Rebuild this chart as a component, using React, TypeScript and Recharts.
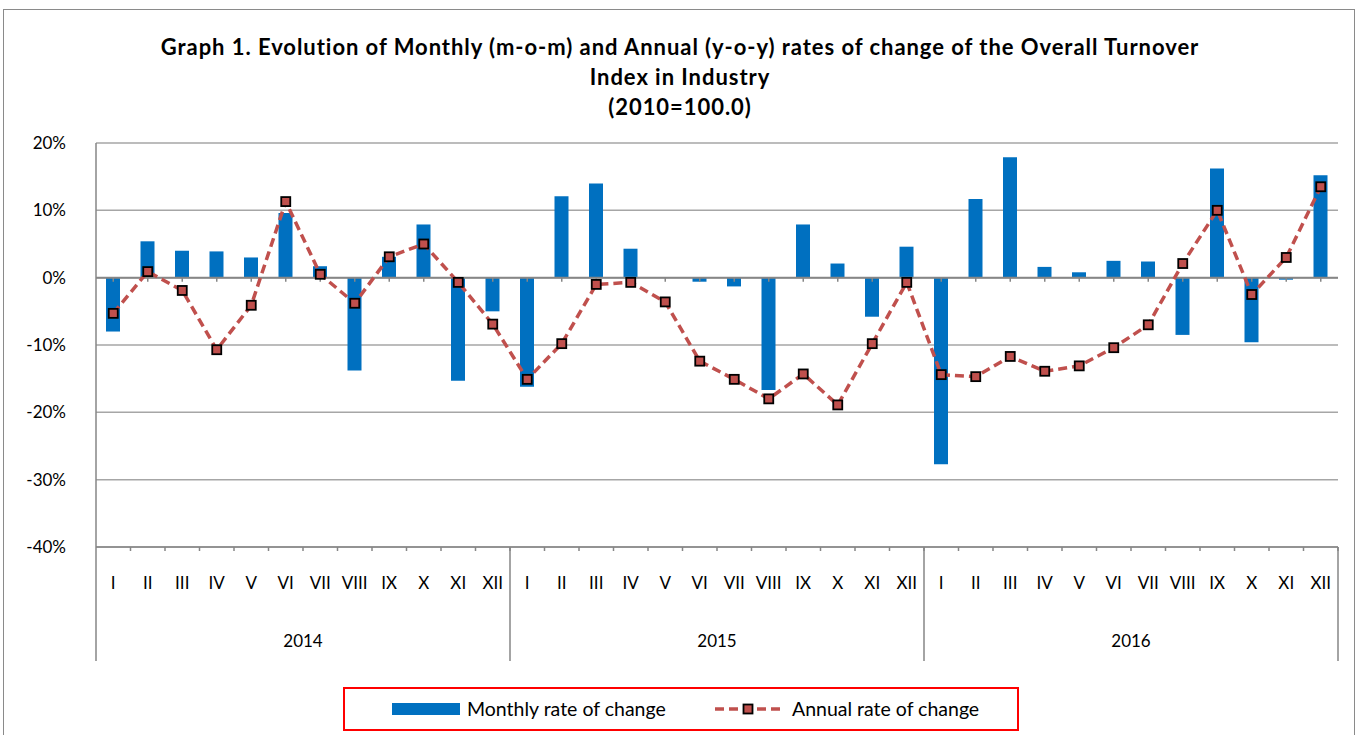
import React from "react"
import { ComposedChart, Bar, Line, XAxis, YAxis, CartesianGrid, ReferenceLine } from "recharts"

const months = ["I", "II", "III", "IV", "V", "VI", "VII", "VIII", "IX", "X", "XI", "XII"]
const years = ["2014", "2015", "2016"]

// m-o-m rate, %
const monthlyRate = [
  -8.0, 5.4, 4.0, 3.9, 3.0, 9.6, 1.7, -13.8, 3.1, 7.9, -15.3, -5.0,
  -16.2, 12.1, 14.0, 4.3, 0.0, -0.6, -1.3, -16.7, 7.9, 2.1, -5.8, 4.6,
  -27.7, 11.7, 17.9, 1.6, 0.8, 2.5, 2.4, -8.5, 16.2, -9.6, -0.3, 15.2,
]

// y-o-y rate, %
const annualRate = [
  -5.3, 0.9, -1.9, -10.7, -4.1, 11.3, 0.5, -3.8, 3.1, 5.0, -0.7, -6.9,
  -15.1, -9.8, -1.0, -0.7, -3.6, -12.4, -15.1, -18.0, -14.3, -18.9, -9.8, -0.7,
  -14.4, -14.7, -11.7, -13.9, -13.1, -10.4, -7.0, 2.1, 10.0, -2.5, 3.0, 13.5,
]

const yTicks = [-40, -30, -20, -10, 0, 10, 20]

const data = years.flatMap((yr, yi) =>
  months.map((m, mi) => ({
    key: `${yr}-${m}`,
    month: m,
    year: yr,
    monthly: monthlyRate[yi * 12 + mi],
    annual: annualRate[yi * 12 + mi],
  }))
)

const FONT = "Lato, 'Open Sans', sans-serif"
const AXIS = "#868686"
const BLUE = "#0070C0"
const RED = "#C0504D"

const W = 1360
const H = 735
const LEFT = 96
const RIGHT = 1338
const BW = (RIGHT - LEFT) / data.length

function MonthTick(props: any) {
  const { x, y, index } = props
  const d = data[index]
  const parts: React.ReactNode[] = []
  // small tick at right boundary of the category
  parts.push(<line key="t" x1={x + BW / 2} x2={x + BW / 2} y1={y} y2={y + 4} stroke={AXIS} strokeWidth={1.5} />)
  if (index % 12 === 0) {
    parts.push(<line key="s" x1={x - BW / 2} x2={x - BW / 2} y1={y} y2={y + 114} stroke={AXIS} strokeWidth={1.5} />)
    parts.push(
      <text key="y" x={x - BW / 2 + 6 * BW} y={y + 100} textAnchor="middle" fontSize={17} fill="#000" fontFamily={FONT}>
        {d.year}
      </text>
    )
  }
  if (index === data.length - 1) {
    parts.push(<line key="e" x1={x + BW / 2} x2={x + BW / 2} y1={y} y2={y + 114} stroke={AXIS} strokeWidth={1.5} />)
  }
  return (
    <g>
      {parts}
      <text x={x} y={y + 42} textAnchor="middle" fontSize={17} fill="#000" fontFamily={FONT}>
        {d.month}
      </text>
    </g>
  )
}

function PctTick(props: any) {
  const { x, y, payload } = props
  return (
    <text x={x - 22} y={y + 6} textAnchor="end" fontSize={17} fill="#000" fontFamily={FONT}>
      {payload.value}%
    </text>
  )
}

function SquareDot(props: any) {
  const { cx, cy, index } = props
  if (cx == null || cy == null) return <g key={index} />
  return <rect key={index} x={cx - 4.5} y={cy - 4.5} width={9} height={9} fill={RED} stroke="#000" strokeWidth={1.8} />
}

export default function App() {
  return (
    <div style={{ position: "fixed", left: 0, top: 0, width: W, height: H, background: "#fff", overflow: "hidden" }}>
      <div
        style={{
          position: "absolute",
          left: 3,
          top: 9,
          width: 1352,
          height: 740,
          border: "1.5px solid #8a8a8a",
          boxSizing: "border-box",
        }}
      />
      <div
        style={{
          position: "absolute",
          left: 0,
          top: 32,
          width: W,
          textAlign: "center",
          fontFamily: FONT,
          fontWeight: 700,
          fontSize: 22,
          letterSpacing: 0.95,
          lineHeight: "30px",
          color: "#000",
        }}
      >
        Graph 1. Evolution of Monthly (m-o-m) and Annual (y-o-y) rates of change of the Overall Turnover
        <br />
        Index in Industry
        <br />
        (2010=100.0)
      </div>
      <div style={{ position: "absolute", left: 0, top: 0 }}>
        <ComposedChart width={W} height={H} data={data} margin={{ top: 143, right: W - RIGHT, bottom: 74, left: 0 }}>
          <CartesianGrid vertical={false} stroke="#a6a6a6" strokeWidth={1.5} />
          <XAxis
            dataKey="key"
            interval={0}
            height={114}
            tickLine={false}
            tickSize={0}
            tickMargin={0}
            axisLine={{ stroke: AXIS, strokeWidth: 1.5 }}
            tick={<MonthTick />}
          />
          <YAxis
            width={LEFT}
            domain={[-40, 20]}
            ticks={yTicks}
            allowDataOverflow
            tickLine={false}
            axisLine={{ stroke: AXIS, strokeWidth: 1.5 }}
            tick={<PctTick />}
          />
          <ReferenceLine y={0} stroke={AXIS} strokeWidth={2} />
          {data.map((d) => (
            <ReferenceLine
              key={d.key}
              segment={[
                { x: d.key, y: 0 },
                { x: d.key, y: -0.6 },
              ]}
              stroke={AXIS}
              strokeWidth={1.5}
            />
          ))}
          <Bar dataKey="monthly" fill={BLUE} barSize={14} isAnimationActive={false} />
          <Line
            type="linear"
            dataKey="annual"
            stroke={RED}
            strokeWidth={3.5}
            strokeDasharray="9 5"
            dot={<SquareDot />}
            activeDot={false}
            isAnimationActive={false}
          />
        </ComposedChart>
      </div>
      <div
        style={{
          position: "absolute",
          left: 343,
          top: 687,
          width: 676,
          height: 44,
          border: "2px solid #ff0000",
          boxSizing: "border-box",
          fontFamily: FONT,
          color: "#000",
        }}
      >
        <svg width={672} height={40} style={{ position: "absolute", left: 0, top: 0 }}>
          <rect x={47} y={14} width={68} height={12} fill={BLUE} />
          <text x={122} y={27} fontSize={19.5} fontFamily={FONT} fill="#000">
            Monthly rate of change
          </text>
          <line x1={370} x2={436} y1={20} y2={20} stroke={RED} strokeWidth={3.5} strokeDasharray="9 5" />
          <rect x={398.5} y={15.5} width={9} height={9} fill={RED} stroke="#000" strokeWidth={1.8} />
          <text x={447} y={27} fontSize={19.5} fontFamily={FONT} fill="#000">
            Annual rate of change
          </text>
        </svg>
      </div>
    </div>
  )
}
